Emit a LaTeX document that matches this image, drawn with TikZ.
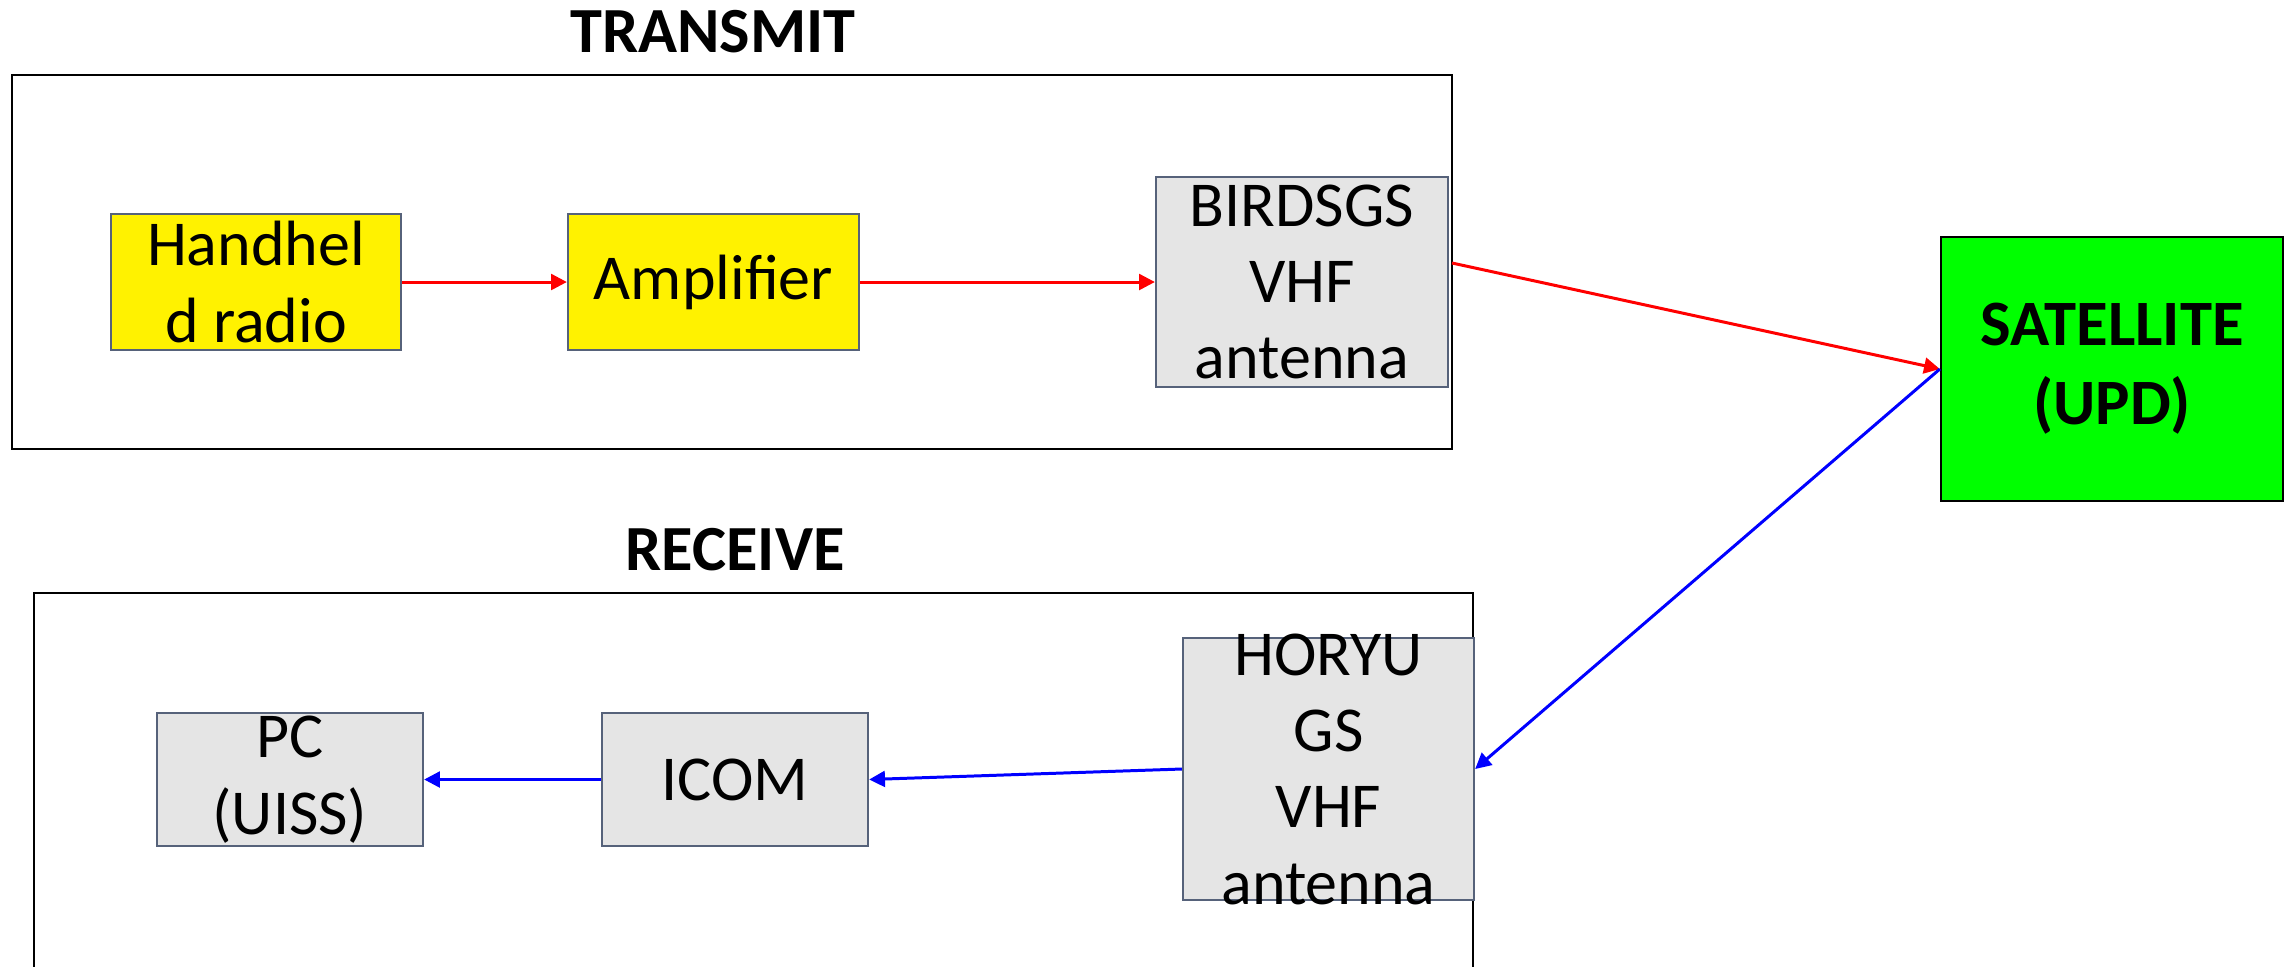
\documentclass[tikz,border=0pt]{standalone}
\usepackage{fontspec}
\setmainfont{Carlito}
\usetikzlibrary{arrows.meta}
\definecolor{boxline}{HTML}{56627A}
\definecolor{boxgray}{HTML}{E5E5E5}
\definecolor{satgreen}{HTML}{00FF00}
\tikzset{
  blk/.style={draw=boxline,line width=0.6pt,inner sep=0pt,align=center,
    font=\fontsize{18.2}{21.7}\selectfont},
  yblk/.style={blk,fill=yellow},
  gblk/.style={blk,fill=boxgray},
  frame/.style={draw=black,line width=0.8pt},
  title/.style={font=\fontsize{18.3}{22}\selectfont\bfseries},
  txarr/.style={draw=red,line width=0.85pt,-{Triangle[length=4.5pt,width=4.5pt]}},
  rxarr/.style={draw=blue,line width=0.85pt,-{Triangle[length=4.5pt,width=4.5pt]}}
}
\begin{document}
\begin{tikzpicture}[x=0.01cm,y=-0.01cm]
				\useasboundingbox (0,0) rectangle (2295,966);
				\clip (0,0) rectangle (2295,966);
				% the transmit side
				\node[title] (txtitle) at (713,32) {TRANSMIT};
				\draw[frame] (12,75) rectangle (1452,449);
				\node[yblk,minimum width=2.90cm,minimum height=1.36cm] (hand) at (256,282) {Handhel\\d radio};
				\node[yblk,minimum width=2.91cm,minimum height=1.36cm] (amp) at (713.5,282) {Amplifier};
				\node[gblk,minimum width=2.92cm,minimum height=2.10cm] (birds) at (1302,282) {BIRDSGS\\VHF\\antenna};
				% the satellite
				\node[draw=black,line width=0.6pt,fill=satgreen,minimum width=3.42cm,minimum height=2.64cm,
				  align=center,font=\fontsize{18.4}{22.5}\selectfont\bfseries] (sat) at (2112,369) {SATELLITE\\(UPD)};
				% the receive side
				\node[title] (rxtitle) at (735,550) {RECEIVE};
				\draw[frame] (34,593) rectangle (1473,1000);
				\node[gblk,minimum width=2.91cm,minimum height=2.62cm,
				  label={[align=center,font=\fontsize{18.2}{21.7}\selectfont]center:HORYU\\GS\\VHF\\antenna}] (horyu) at (1328.5,769) {};
				\node[gblk,minimum width=2.66cm,minimum height=1.33cm] (icom) at (735,779.5) {ICOM};
				\node[gblk,minimum width=2.66cm,minimum height=1.33cm] (pc) at (290,779.5) {PC\\(UISS)};
				% uplink
				\coordinate (txout) at (1452,263);
				\draw[txarr] (hand.east) -- (amp.west);
				\draw[txarr] (amp.east) -- (birds.west);
				\draw[txarr] (txout) -- (sat.west);
				% downlink
				\draw[rxarr] (sat.west) -- (horyu.east);
				\draw[rxarr] (horyu.west) -- (icom.east);
				\draw[rxarr] (icom.west) -- (pc.east);
\end{tikzpicture}
\end{document}
